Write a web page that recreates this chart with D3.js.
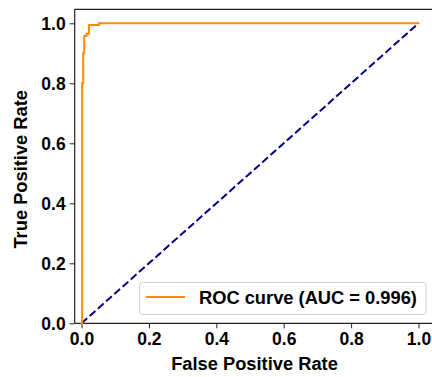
<!DOCTYPE html>
<html>
<head>
<meta charset="utf-8">
<script src="https://cdn.jsdelivr.net/npm/d3@7"></script>
<style>
  html, body { margin: 0; padding: 0; background: #fff; }
  svg { display: block; font-family: "Liberation Sans", Arial, sans-serif; font-weight: bold; }
</style>
</head>
<body>
<svg id="chart" width="432" height="377"></svg>
<script>
// ROC curve points (false positive rate, true positive rate)
const fpr = [0, 0.002, 0.002, 0.005, 0.005, 0.008, 0.008, 0.015, 0.015, 0.022, 0.022, 0.052, 0.052, 1.0];
const tpr = [0, 0, 0.80, 0.80, 0.90, 0.90, 0.958, 0.958, 0.965, 0.965, 0.994, 0.994, 1.0, 1.0];
// Chance diagonal
const diagX = [0, 1];
const diagY = [0, 1];
const xTicks = [0.0, 0.2, 0.4, 0.6, 0.8, 1.0];
const yTicks = [0.0, 0.2, 0.4, 0.6, 0.8, 1.0];
const aucValue = 0.996;

const svg = d3.select("#chart");

// Plot area bounds
const plotLeft = 74.7, plotTop = 9.3, plotBottom = 323.3;
const x = d3.scaleLinear().domain([0, 1]).range([81.5, 418.5]);
const y = d3.scaleLinear().domain([0, 1]).range([plotBottom, plotBottom - 300]);

// Axes
const xAxis = d3.axisBottom(x).tickValues(xTicks).tickFormat(d3.format(".1f")).tickSize(5).tickPadding(4);
const yAxis = d3.axisLeft(y).tickValues(yTicks).tickFormat(d3.format(".1f")).tickSize(5).tickPadding(4);

const gx = svg.append("g").attr("transform", `translate(0,${plotBottom})`).call(xAxis);
const gy = svg.append("g").attr("transform", `translate(${plotLeft},0)`).call(yAxis);
[gx, gy].forEach(g => {
  g.select(".domain").remove();
  g.selectAll(".tick line").attr("stroke", "#222").attr("stroke-width", 1);
  g.selectAll(".tick text").attr("fill", "#000").style("font-size", "17.5px")
    .style("font-family", "'Liberation Sans', Arial, sans-serif").style("font-weight", "bold");
});
gy.selectAll(".tick text").attr("dy", "0.36em");

// Spines (right edge extends past the view)
const spine = svg.append("g").attr("stroke", "#222").attr("stroke-width", 1.2).attr("fill", "none");
spine.append("line").attr("x1", plotLeft).attr("x2", 440).attr("y1", plotBottom).attr("y2", plotBottom);
spine.append("line").attr("x1", plotLeft).attr("x2", 440).attr("y1", plotTop).attr("y2", plotTop);
spine.append("line").attr("x1", plotLeft).attr("x2", plotLeft).attr("y1", plotTop).attr("y2", plotBottom);

// Diagonal reference line
const line = d3.line().x(d => x(d[0])).y(d => y(d[1]));
svg.append("path")
  .datum(d3.zip(diagX, diagY))
  .attr("d", line)
  .attr("fill", "none").attr("stroke", "#000080").attr("stroke-width", 2)
  .attr("stroke-dasharray", "7.6,3.4");

// ROC curve
svg.append("path")
  .datum(d3.zip(fpr, tpr))
  .attr("d", line)
  .attr("fill", "none").attr("stroke", "#ff8c00").attr("stroke-width", 2)
  .attr("stroke-linejoin", "miter").attr("stroke-linecap", "square");

// Axis labels
svg.append("text").attr("x", 254.5).attr("y", 370)
  .attr("text-anchor", "middle").style("font-size", "18.3px").text("False Positive Rate");
svg.append("text").attr("transform", `translate(27,${(plotTop + plotBottom) / 2 + 3}) rotate(-90)`)
  .attr("text-anchor", "middle").style("font-size", "18.3px").text("True Positive Rate");

// Legend
const lg = svg.append("g");
lg.append("rect").attr("x", 139.5).attr("y", 282.5).attr("width", 286.5).attr("height", 32)
  .attr("rx", 3).attr("fill", "#fff").attr("fill-opacity", 0.8)
  .attr("stroke", "#d0d0d0").attr("stroke-width", 1);
lg.append("line").attr("x1", 146).attr("x2", 185).attr("y1", 297).attr("y2", 297)
  .attr("stroke", "#ff8c00").attr("stroke-width", 2);
lg.append("text").attr("x", 199).attr("y", 303.5).style("font-size", "18.3px")
  .text(`ROC curve (AUC = ${aucValue.toFixed(3)})`);
</script>
</body>
</html>
